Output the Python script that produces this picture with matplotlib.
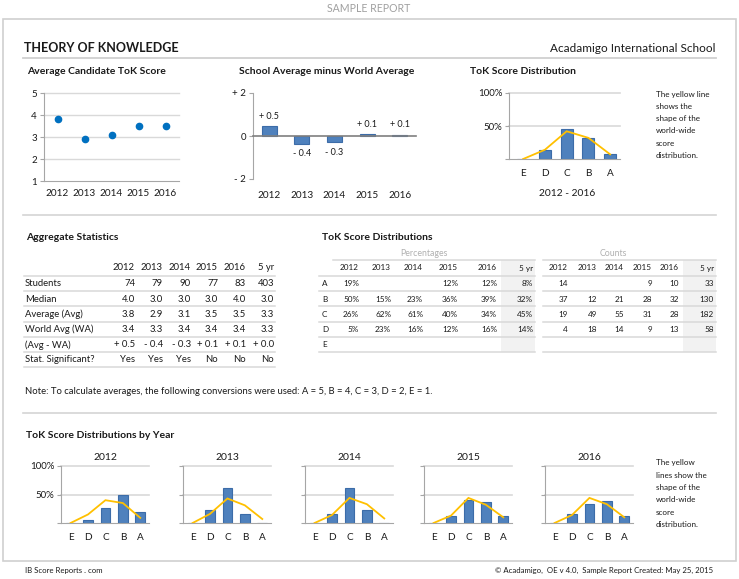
import matplotlib
matplotlib.use('Agg')
import matplotlib.pyplot as plt
from matplotlib.patches import Rectangle

W, H = 739, 579
plt.rcParams['font.family'] = ['Lato', 'DejaVu Sans']

# ---------------- data ----------------
years = ['2012', '2013', '2014', '2015', '2016']
avg_score = [3.8, 2.9, 3.1, 3.5, 3.5]
diff_vals = [0.45, -0.36, -0.28, 0.07, 0.06]
diff_labels = ['+ 0.5', '- 0.4', '- 0.3', '+ 0.1', '+ 0.1']

axis_grades = ['E', 'D', 'C', 'B', 'A']
table_grades = ['A', 'B', 'C', 'D', 'E']
table_cols = ['2012', '2013', '2014', '2015', '2016', '5 yr']

# percentages per grade (A..E), columns 2012..2016, 5 yr
pct_A = [19, None, None, 12, 12, 8]
pct_B = [50, 15, 23, 36, 39, 32]
pct_C = [26, 62, 61, 40, 34, 45]
pct_D = [5, 23, 16, 12, 16, 14]
pct_E = [None, None, None, None, None, None]
cnt_A = [14, None, None, 9, 10, 33]
cnt_B = [37, 12, 21, 28, 32, 130]
cnt_C = [19, 49, 55, 31, 28, 182]
cnt_D = [4, 18, 14, 9, 13, 58]
cnt_E = [None, None, None, None, None, None]

# world-wide distribution (E, D, C, B, A) per year and overall
world_2012 = [0, 15, 40, 35, 9]
world_2013 = [0, 16, 43, 31, 7]
world_2014 = [0, 14, 44, 33, 8]
world_2015 = [0, 13, 44, 32, 10]
world_2016 = [0, 14, 44, 33, 10]
world_all = [0, 14, 42, 32, 7]

stats_rows = ['Students', 'Median', 'Average (Avg)', 'World Avg (WA)',
              '(Avg - WA)', 'Stat. Significant?']
stat_students = ['74', '79', '90', '77', '83', '403']
stat_median = ['4.0', '3.0', '3.0', '3.0', '4.0', '3.0']
stat_avg = ['3.8', '2.9', '3.1', '3.5', '3.5', '3.3']
stat_world = ['3.4', '3.3', '3.4', '3.4', '3.4', '3.3']
stat_diff = ['+ 0.5', '- 0.4', '- 0.3', '+ 0.1', '+ 0.1', '+ 0.0']
stat_sig = ['Yes', 'Yes', 'Yes', 'No', 'No', 'No']

# ---------------- styles ----------------
BLUE = '#4F81BD'
BLUE_EDGE = '#3C6CA8'
DOT = '#0070C0'
YELLOW = '#FFC000'
GRID = '#D9D9D9'
AXIS = '#A6A6A6'
TXT = '#1a1a1a'
FS_AGG = 6.8
FS_DIST = 5.9
FS_NOTE = 5.8

fig = plt.figure(figsize=(W / 100, H / 100), dpi=100)
fig.patch.set_facecolor('white')


def add_ax(x0, y0, x1, y1):
    return fig.add_axes([x0 / W, 1 - y1 / H, (x1 - x0) / W, (y1 - y0) / H])


ov = fig.add_axes([0, 0, 1, 1])
ov.set_xlim(0, W)
ov.set_ylim(H, 0)
ov.axis('off')

# page frame
ov.add_patch(Rectangle((3, 19), 733, 542, fill=False, ec='#D0D0D0', lw=1.2))
ov.text(369, 8.5, 'SAMPLE REPORT', ha='center', va='center', fontsize=7.6, color='#a0a0a0')
ov.text(24, 48, 'THEORY OF KNOWLEDGE', ha='left', va='center', fontsize=9,
        fontweight='bold', color=TXT)
ov.text(715, 48, 'Acadamigo International School', ha='right', va='center',
        fontsize=8.5, color=TXT)
ov.plot([23, 716], [57.5, 57.5], color='#D0D0D0', lw=1.3)
for yy in (215, 413):
    ov.plot([23, 716], [yy, yy], color='#D4D4D4', lw=1.2)

ov.text(25, 570, 'IB Score Reports . com', ha='left', va='center', fontsize=5.6, color=TXT)
ov.text(713, 570, '\u00a9 Acadamigo,  OE v 4.0,  Sample Report Created: May 25, 2015',
        ha='right', va='center', fontsize=5.6, color=TXT)


def style_axes(ax):
    ax.set_facecolor('none')
    for s in ('top', 'right'):
        ax.spines[s].set_visible(False)
    ax.spines['left'].set_color(AXIS)
    ax.spines['bottom'].set_color(AXIS)
    ax.tick_params(axis='y', colors=AXIS, length=3, width=0.8, labelcolor=TXT,
                   labelsize=7, pad=2)
    ax.tick_params(axis='x', length=0, labelcolor=TXT, labelsize=7.2)


# ---------- chart 1: average score ----------
ov.text(27, 72, 'Average Candidate ToK Score', ha='left', va='center', fontsize=7.5,
        fontweight='bold', color=TXT)
ax1 = add_ax(44, 93, 179, 181)
style_axes(ax1)
xs = list(range(len(years)))
for v in (2, 3, 4, 5):
    ax1.axhline(v, color=GRID, lw=1, clip_on=False, zorder=0)
ax1.plot(xs, avg_score, 'o', color=DOT, markersize=4.5, zorder=3)
ax1.set_xlim(-0.5, 4.5)
ax1.set_ylim(1, 5)
ax1.set_yticks([1, 2, 3, 4, 5])
ax1.set_xticks(xs)
ax1.set_xticklabels(years)
ax1.tick_params(axis='x', pad=6)

# ---------- chart 2: difference ----------
ov.text(327, 72, 'School Average minus World Average', ha='center', va='center',
        fontsize=7.5, fontweight='bold', color=TXT)
ax2 = add_ax(253, 93, 416, 179)
style_axes(ax2)
ax2.spines['bottom'].set_visible(False)
ax2.bar(xs, diff_vals, width=0.46, color=BLUE, edgecolor=BLUE_EDGE, lw=0.8, zorder=2)
ax2.axhline(0, color='#7f7f7f', lw=1.2, zorder=3, clip_on=False)
for x, v, lab in zip(xs, diff_vals, diff_labels):
    if v >= 0:
        ax2.annotate(lab, (x, v), xytext=(0, 4), textcoords='offset points',
                     ha='center', va='bottom', fontsize=6.5, color=TXT)
    else:
        ax2.annotate(lab, (x, v), xytext=(0, -4), textcoords='offset points',
                     ha='center', va='top', fontsize=6.5, color=TXT)
ax2.set_xlim(-0.5, 4.5)
ax2.set_ylim(-2, 2)
ax2.set_yticks([-2, 0, 2])
ax2.set_yticklabels(['- 2', '0', '+ 2'])
ax2.set_xticks(xs)
ax2.set_xticklabels(years)
ax2.tick_params(axis='x', pad=9)

# ---------- distribution helpers ----------
pct_rows = [pct_A, pct_B, pct_C, pct_D, pct_E]
cnt_rows = [cnt_A, cnt_B, cnt_C, cnt_D, cnt_E]


def dist_for(col):
    # values in axis order E, D, C, B, A
    order = [4, 3, 2, 1, 0]
    return [(pct_rows[i][col] or 0) for i in order]


def draw_dist(ax, vals, world, labels=True, width=0.55):
    style_axes(ax)
    gx = list(range(len(axis_grades)))
    for v in (50, 100):
        ax.axhline(v, color=GRID, lw=1.2, clip_on=False, zorder=0)
    ax.bar(gx, vals, width=width, color=BLUE, edgecolor=BLUE_EDGE, lw=0.8, zorder=2)
    ax.plot(gx, world, color=YELLOW, lw=1.3, zorder=3, solid_joinstyle='miter')
    ax.set_ylim(0, 100)
    ax.set_yticks([0, 50, 100])
    if labels:
        ax.set_yticklabels(['', '50%', '100%'])
    else:
        ax.set_yticklabels(['', '', ''])
    ax.set_xticks(gx)
    ax.set_xticklabels(axis_grades)
    ax.tick_params(axis='x', pad=7.5)


# ---------- chart 3: overall distribution ----------
ov.text(470, 72, 'ToK Score Distribution', ha='left', va='center', fontsize=7.5,
        fontweight='bold', color=TXT)
ax3 = add_ax(509, 93, 620, 159)
draw_dist(ax3, dist_for(5), world_all)
ax3.set_xlim(-0.65, 4.45)
ov.text(567, 194, '2012 - 2016', ha='center', va='center', fontsize=7.4, color=TXT)
note_top = ['The yellow line', 'shows the', 'shape of the', 'world-wide', 'score',
            'distribution.']
for i, line in enumerate(note_top):
    ov.text(656, 94 + 12.3 * i, line, ha='left', va='center', fontsize=FS_NOTE, color=TXT)

# ---------- aggregate statistics table ----------
ov.text(26, 238, 'Aggregate Statistics', ha='left', va='center', fontsize=7.5,
        fontweight='bold', color=TXT)
agg_rights = [135, 163, 191, 218, 246, 274]
head_y = 268
row_h = 15.2
for c, r in zip(table_cols, agg_rights):
    ov.text(r, head_y, c, ha='right', va='center', fontsize=FS_AGG, color=TXT)
stat_vals = [stat_students, stat_median, stat_avg, stat_world, stat_diff, stat_sig]
for i, (name, vals) in enumerate(zip(stats_rows, stat_vals)):
    y = 284 + row_h * i
    ov.text(25, y, name, ha='left', va='center', fontsize=FS_AGG, color=TXT)
    for v, r in zip(vals, agg_rights):
        ov.text(r, y, v, ha='right', va='center', fontsize=FS_AGG, color=TXT)
for k in range(len(stats_rows) + 1):
    yy = 276 + row_h * k
    ov.plot([24, 275], [yy, yy], color=GRID, lw=1.1)

# ---------- distribution tables ----------
ov.text(322, 238, 'ToK Score Distributions', ha='left', va='center', fontsize=7.5,
        fontweight='bold', color=TXT)
pct_rights = [359, 391, 423, 458, 497, 533]
cnt_rights = [568, 597, 624, 652, 679, 714]
ov.add_patch(Rectangle((501, 260), 34, 92, color='#F2F2F2', lw=0, zorder=0))
ov.add_patch(Rectangle((683, 260), 33, 92, color='#F2F2F2', lw=0, zorder=0))
ov.text(424, 254, 'Percentages', ha='center', va='center', fontsize=6.3, color='#b0b0b0')
ov.text(613, 254, 'Counts', ha='center', va='center', fontsize=6.3, color='#b0b0b0')
ov.plot([333, 535], [260, 260], color=GRID, lw=1.1)
ov.plot([543, 716], [260, 260], color=GRID, lw=1.1)
for c, r in zip(table_cols, pct_rights):
    ov.text(r, head_y, c, ha='right', va='center', fontsize=FS_DIST, color=TXT)
for c, r in zip(table_cols, cnt_rights):
    ov.text(r, head_y, c, ha='right', va='center', fontsize=FS_DIST, color=TXT)
for i, g in enumerate(table_grades):
    y = 284 + row_h * i
    ov.text(322, y, g, ha='left', va='center', fontsize=FS_DIST, color=TXT)
    for v, r in zip(pct_rows[i], pct_rights):
        if v is not None:
            ov.text(r, y, f'{v}%', ha='right', va='center', fontsize=FS_DIST, color=TXT)
    for v, r in zip(cnt_rows[i], cnt_rights):
        if v is not None:
            ov.text(r, y, f'{v}', ha='right', va='center', fontsize=FS_DIST, color=TXT)
for k in range(len(table_grades) + 1):
    yy = 276 + row_h * k
    ov.plot([319, 535], [yy, yy], color=GRID, lw=1.1)
    ov.plot([543, 716], [yy, yy], color=GRID, lw=1.1)

ov.text(25, 391, 'Note: To calculate averages, the following conversions were used: '
        'A = 5, B = 4, C = 3, D = 2, E = 1.', ha='left', va='center', fontsize=6.8,
        color=TXT)

# ---------- distributions by year ----------
ov.text(26, 435, 'ToK Score Distributions by Year', ha='left', va='center', fontsize=7.5,
        fontweight='bold', color=TXT)
year_world = [world_2012, world_2013, world_2014, world_2015, world_2016]
lefts = [61, 183, 305, 424, 545]
for j, (yr, left) in enumerate(zip(years, lefts)):
    bx = add_ax(left, 466, left + 88, 523)
    draw_dist(bx, dist_for(j), year_world[j], labels=(j == 0))
    bx.set_xlim(-0.55, 4.5)
    bx.set_title(yr, fontsize=7.5, color=TXT, pad=4)
note_bottom = ['The yellow', 'lines show the', 'shape of the', 'world-wide', 'score',
               'distribution.']
for i, line in enumerate(note_bottom):
    ov.text(656, 463 + 12.3 * i, line, ha='left', va='center', fontsize=FS_NOTE, color=TXT)

fig.savefig('out.png', dpi=100)
